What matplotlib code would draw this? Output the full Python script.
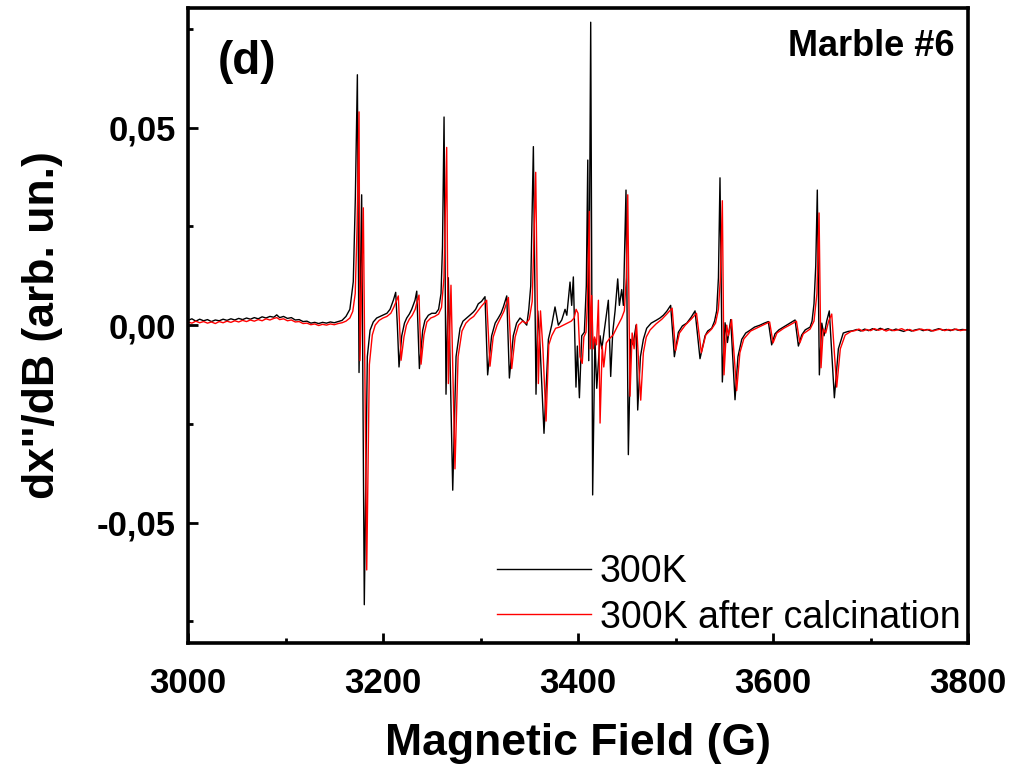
import matplotlib
matplotlib.use("Agg")
import matplotlib.pyplot as plt
from matplotlib.ticker import MultipleLocator, FuncFormatter
import numpy as np

plt.rcParams['font.family'] = ['Liberation Sans', 'DejaVu Sans']

# ---------------- data ----------------
# 300K : left baseline
field_300k_left = [3000, 3004, 3008, 3012, 3016, 3020, 3024, 3028, 3032, 3036, 3040, 3044,
                   3048, 3052, 3056, 3060, 3064, 3068, 3072, 3076, 3080, 3084, 3088, 3091,
                   3094, 3098, 3102, 3106, 3110, 3114, 3118, 3122, 3126, 3130, 3134, 3138,
                   3142, 3146, 3150, 3154, 3158]
signal_300k_left = [0.0012, 0.0016, 0.0010, 0.0015, 0.0011, 0.0014, 0.0009, 0.0013, 0.0011, 0.0015,
                    0.0012, 0.0016, 0.0013, 0.0017, 0.0014, 0.0018, 0.0015, 0.0019, 0.0016, 0.0021,
                    0.0018, 0.0022, 0.0020, 0.0026, 0.0019, 0.0022, 0.0017, 0.0019, 0.0013, 0.0014,
                    0.0009, 0.0010, 0.0005, 0.0007, 0.0004, 0.0007, 0.0005, 0.0008, 0.0006, 0.0009,
                    0.0012]
# 300K : spectrum
field_300k_mid = [3162, 3166, 3169.5, 3171.6, 3173.7, 3175.4, 3178.1, 3180.8, 3183.9, 3186.7,
                  3190, 3193.5, 3197, 3200.3, 3204, 3207.2, 3210.6, 3213, 3214.7, 3216.4,
                  3219.2, 3222, 3224.3, 3227, 3229.4, 3232.8, 3234.6, 3237.3, 3240.7, 3243,
                  3246.5, 3250, 3254, 3257, 3259.5, 3261, 3262.6, 3264.6, 3267, 3271.5,
                  3274.9, 3279, 3282, 3285.8, 3289, 3292.6, 3295, 3297.7, 3301, 3304.6,
                  3307.3, 3311.4, 3315, 3318.2, 3321, 3323.4, 3326.9, 3329.6, 3333.6, 3337,
                  3340.5, 3344, 3347.4, 3349.5, 3351.5, 3354.2, 3356.9, 3358.7, 3361, 3365.1,
                  3369.6, 3373, 3376.4, 3379.8, 3383.3, 3386.7, 3388.5, 3391.8, 3393.5, 3395.2,
                  3397.9, 3399.3, 3401.4, 3403.8, 3406.5, 3408.5, 3410, 3411, 3413, 3415,
                  3417.3, 3419.2, 3422.6, 3424.4, 3427.7, 3431.1, 3433.5, 3435.6, 3438, 3440.7,
                  3442.4, 3444.8, 3446.5, 3449.2, 3451.6, 3454, 3456.5, 3459.5, 3461.2, 3464,
                  3467, 3470.4, 3475, 3480.7, 3484, 3487.5, 3491, 3495, 3498.8, 3502.9,
                  3507, 3511.5, 3516, 3520, 3525.1, 3530.3, 3533, 3537.1, 3540, 3542.2,
                  3544, 3545.6, 3548, 3550.8, 3553.2, 3556.6, 3561, 3564, 3567.9, 3572,
                  3576.4, 3581, 3586.7, 3591, 3595.2, 3598.6, 3602, 3606, 3610.6, 3616,
                  3622.6, 3626, 3629.4, 3633, 3638, 3640, 3642, 3643.8, 3645.4, 3647.5,
                  3650, 3652.3, 3655, 3657.7, 3662.9, 3667, 3672, 3677, 3682]
signal_300k_mid = [0.0022, 0.0040, 0.011, 0.032, 0.0634, -0.012, 0.033, -0.0708, -0.008, -0.0013,
                   0.0008, 0.0018, 0.0022, 0.0026, 0.0030, 0.0040, 0.0063, 0.0083, 0.0, -0.0106,
                   -0.0027, 0.0005, 0.0018, 0.0028, 0.0040, 0.0063, 0.0086, -0.011, -0.0013, 0.0012,
                   0.0025, 0.0030, 0.0030, 0.0040, 0.0080, 0.020, 0.0527, -0.0175, 0.012, -0.0418,
                   -0.008, -0.0008, 0.0010, 0.0018, 0.0025, 0.0033, 0.0040, 0.0054, 0.0060, 0.0072,
                   -0.0126, -0.0027, 0.0005, 0.0018, 0.0030, 0.0046, 0.0074, -0.0134, -0.0027, 0.0005,
                   0.0018, 0.0010, 0.0, 0.0040, 0.0099, 0.0452, -0.0175, 0.0036, -0.0050, -0.0274,
                   -0.0036, 0.0, 0.0046, 0.0, 0.0013, 0.0040, 0.0025, 0.0109, 0.0050, 0.0122,
                   -0.0157, -0.0053, -0.0184, -0.0027, -0.0018, 0.010, 0.0418, -0.009, 0.0767, -0.043,
                   -0.0036, -0.016, -0.0027, -0.006, 0.0, 0.0063, -0.013, -0.0018, 0.0036, 0.0117,
                   0.0050, 0.0090, 0.0050, 0.0342, -0.0328, -0.0036, -0.0050, 0.0, -0.0215, -0.0080,
                   -0.0036, -0.0008, 0.0005, 0.0013, 0.0018, 0.0025, 0.0035, 0.0050, -0.008, -0.0018,
                   -0.0002, 0.0005, 0.0020, 0.0036, -0.0085, -0.0027, -0.0015, -0.0008, 0.0010, 0.0036,
                   0.012, 0.0373, -0.0144, 0.0006, -0.0044, 0.0014, -0.0189, -0.0080, -0.0036, -0.0020,
                   -0.0013, -0.0005, 0.0, 0.0005, 0.0009, -0.0050, -0.0022, -0.0012, -0.0005, 0.0003,
                   0.0013, -0.0053, -0.0025, -0.0012, -0.0005, 0.0010, 0.0054, 0.015, 0.0342, -0.0126,
                   0.0005, -0.0027, 0.0010, 0.0036, -0.0184, -0.0060, -0.0020, -0.0016, -0.0014]
# 300K : right baseline
field_300k_right = [3686, 3690, 3694, 3698, 3702, 3706, 3710, 3714, 3718, 3722, 3726, 3730,
                    3734, 3738, 3742, 3746, 3750, 3754, 3758, 3762, 3766, 3770, 3774, 3778,
                    3782, 3786, 3790, 3794, 3798, 3800]
signal_300k_right = [-0.0011, -0.0015, -0.0010, -0.0014, -0.0009, -0.0013, -0.0008, -0.0012, -0.0009,
                     -0.0014, -0.0010, -0.0013, -0.0016, -0.0011, -0.0015, -0.0012, -0.0010, -0.0014,
                     -0.0011, -0.0015, -0.0012, -0.0009, -0.0013, -0.0011, -0.0014, -0.0010, -0.0013,
                     -0.0011, -0.0012, -0.0012]

# 300K after calcination : left baseline
field_calc_left = [3000, 3004, 3008, 3012, 3016, 3020, 3024, 3028, 3032, 3036, 3040, 3044,
                   3048, 3052, 3056, 3060, 3064, 3068, 3072, 3076, 3080, 3084, 3088, 3091,
                   3094, 3098, 3102, 3106, 3110, 3114, 3118, 3122, 3126, 3130, 3134, 3138,
                   3142, 3146, 3150, 3154, 3158]
signal_calc_left = [0.0008, 0.0005, 0.0010, 0.0006, 0.0009, 0.0005, 0.0008, 0.0004, 0.0009, 0.0006,
                    0.0010, 0.0007, 0.0011, 0.0008, 0.0012, 0.0009, 0.0013, 0.0010, 0.0014, 0.0011,
                    0.0016, 0.0013, 0.0017, 0.0019, 0.0014, 0.0016, 0.0011, 0.0013, 0.0008, 0.0009,
                    0.0004, 0.0005, 0.0001, 0.0003, -0.0001, 0.0002, 0.0000, 0.0003, 0.0001, 0.0004,
                    0.0006]
# 300K after calcination : spectrum
field_calc_mid = [3162, 3166, 3169, 3171.5, 3173.4, 3175.4, 3176.4, 3179.8, 3183.3, 3186,
                  3189, 3192, 3196, 3200, 3204, 3208, 3211, 3213.5, 3215.7, 3217,
                  3218.5, 3221.5, 3224, 3227, 3230, 3233, 3235, 3236.9, 3239, 3242,
                  3245, 3249, 3253, 3257, 3260, 3262.5, 3265.3, 3267, 3269.7, 3273.8,
                  3277, 3281, 3285, 3289, 3293, 3297, 3301, 3306.3, 3309.7, 3313,
                  3317, 3320, 3324, 3328.6, 3332, 3335.5, 3339, 3343, 3347, 3350,
                  3353, 3356.6, 3359.3, 3361.5, 3364, 3367.2, 3370, 3373, 3377, 3381,
                  3385, 3389, 3393, 3396, 3398, 3400, 3402, 3404.3, 3406, 3408.2,
                  3409.5, 3411.6, 3412.5, 3414, 3415.5, 3417, 3419, 3420.9, 3422.6, 3424.8,
                  3426.4, 3429, 3432, 3436, 3440, 3444.8, 3447.5, 3449.5, 3451, 3453.3,
                  3455.5, 3457.5, 3460, 3464.3, 3467, 3470, 3474, 3480, 3486, 3491,
                  3496.5, 3500, 3504, 3510, 3516, 3521.5, 3526.5, 3531, 3537, 3541,
                  3544, 3546, 3548, 3549.7, 3552.5, 3554.2, 3557.5, 3562.7, 3566, 3570,
                  3577, 3587, 3596.5, 3600, 3604, 3611, 3617, 3624, 3627.5, 3631,
                  3638, 3642, 3645, 3647.2, 3649.2, 3651.5, 3654, 3657, 3660.2, 3665.3,
                  3669, 3674, 3680]
signal_calc_mid = [0.0010, 0.0018, 0.0035, 0.008, 0.025, 0.054, -0.009, 0.0297, -0.062, -0.010,
                   -0.0025, 0.0000, 0.0012, 0.0018, 0.0022, 0.0030, 0.0045, 0.0060, 0.0074, 0.0,
                   -0.0089, -0.0030, 0.0000, 0.0015, 0.0025, 0.0040, 0.0060, 0.0076, -0.0099, -0.0025,
                   0.0008, 0.0018, 0.0022, 0.0028, 0.0045, 0.012, 0.045, -0.0148, 0.0101, -0.0364,
                   -0.0080, -0.0015, 0.0005, 0.0015, 0.0022, 0.0035, 0.0048, 0.0063, -0.0104, -0.0030,
                   0.0000, 0.0015, 0.0035, 0.0070, -0.011, -0.0030, 0.0000, 0.0010, 0.0005, 0.0015,
                   0.0060, 0.0387, -0.0148, 0.0036, -0.0060, -0.0243, -0.0050, -0.0027, -0.0008, -0.0005,
                   0.0000, 0.0005, 0.0010, 0.0018, 0.0040, 0.0030, -0.008, -0.0097, -0.0030, -0.0018,
                   0.0050, 0.0288, -0.006, 0.0075, -0.006, -0.003, -0.005, 0.0063, -0.0248, -0.0053,
                   -0.0106, -0.0045, -0.0035, -0.0025, -0.0005, 0.0018, 0.0036, 0.012, 0.033, -0.018,
                   -0.002, -0.006, 0.0002, -0.019, -0.0070, -0.0030, -0.0012, 0.0003, 0.0015, 0.0028,
                   0.0043, -0.0065, -0.0020, 0.0000, 0.0015, 0.0030, -0.0070, -0.0025, -0.0010, 0.0005,
                   0.0040, 0.012, 0.0315, -0.0126, 0.0000, -0.0027, 0.0014, -0.0166, -0.0070, -0.0035,
                   -0.0015, -0.0003, 0.0008, -0.0045, -0.0020, -0.0008, 0.0000, 0.0010, -0.0045, -0.0022,
                   -0.0010, 0.0010, 0.0080, 0.0284, -0.0108, -0.0010, -0.0020, 0.0010, 0.0028, -0.0157,
                   -0.0060, -0.0025, -0.0016]
# 300K after calcination : right baseline
field_calc_right = [3684, 3688, 3692, 3696, 3700, 3704, 3708, 3712, 3716, 3720, 3724, 3728,
                    3732, 3736, 3740, 3744, 3748, 3752, 3756, 3760, 3764, 3768, 3772, 3776,
                    3780, 3784, 3788, 3792, 3796, 3800]
signal_calc_right = [-0.0014, -0.0010, -0.0015, -0.0011, -0.0014, -0.0009, -0.0013, -0.0010, -0.0015,
                     -0.0011, -0.0014, -0.0012, -0.0009, -0.0014, -0.0011, -0.0015, -0.0012, -0.0010,
                     -0.0013, -0.0011, -0.0015, -0.0012, -0.0010, -0.0014, -0.0011, -0.0013, -0.0010,
                     -0.0014, -0.0012, -0.0012]

series_labels = ["300K", "300K after calcination"]
series_colors = ["black", "red"]
x_ticks = [3000, 3200, 3400, 3600, 3800]
y_ticks = [-0.05, 0.0, 0.05]

# ---------------- plotting ----------------
fig = plt.figure(figsize=(10.19, 7.71), dpi=100)
ax = fig.add_axes([0.1845, 0.166, 0.7655, 0.8236])

f1 = np.concatenate([field_300k_left, field_300k_mid, field_300k_right])
s1 = np.concatenate([signal_300k_left, signal_300k_mid, signal_300k_right])
f2 = np.concatenate([field_calc_left, field_calc_mid, field_calc_right])
s2 = np.concatenate([signal_calc_left, signal_calc_mid, signal_calc_right])

ax.plot(f1, s1, color=series_colors[0], lw=1.0, label=series_labels[0])
ax.plot(f2, s2, color=series_colors[1], lw=1.0, label=series_labels[1])

ax.set_xlim(3000, 3800)
ax.set_ylim(-0.0805, 0.0803)
ax.set_xticks(x_ticks)
ax.set_yticks(y_ticks)
ax.xaxis.set_minor_locator(MultipleLocator(100))
ax.yaxis.set_minor_locator(MultipleLocator(0.025))
ax.yaxis.set_major_formatter(FuncFormatter(lambda v, p: f"{v:.2f}".replace('.', ',').replace('-0,00', '0,00')))

ax.tick_params(which='major', direction='in', length=7, width=2)
ax.tick_params(which='minor', direction='in', length=3.5, width=2)
ax.tick_params(axis='x', which='major', pad=17)
ax.tick_params(axis='y', which='major', pad=9)
for lab in ax.get_xticklabels() + ax.get_yticklabels():
    lab.set_fontsize(25)
    lab.set_fontweight('bold')
for sp in ax.spines.values():
    sp.set_linewidth(2.6)

ax.set_xlabel("Magnetic Field (G)", fontsize=32, fontweight='bold', labelpad=17)
ax.set_ylabel("dx''/dB (arb. un.)", fontsize=32, fontweight='bold', labelpad=24)

ax.text(0.038, 0.915, "(d)", transform=ax.transAxes, fontsize=33, fontweight='bold',
        ha='left', va='center')
ax.text(0.983, 0.94, "Marble #6", transform=ax.transAxes, fontsize=26, fontweight='bold',
        ha='right', va='center')

leg = ax.legend(loc='lower right', frameon=False, fontsize=27, handlelength=2.5,
                handletextpad=0.25, labelspacing=0.25, borderaxespad=0.1, borderpad=0.1)

fig.savefig("out.png", dpi=100)
